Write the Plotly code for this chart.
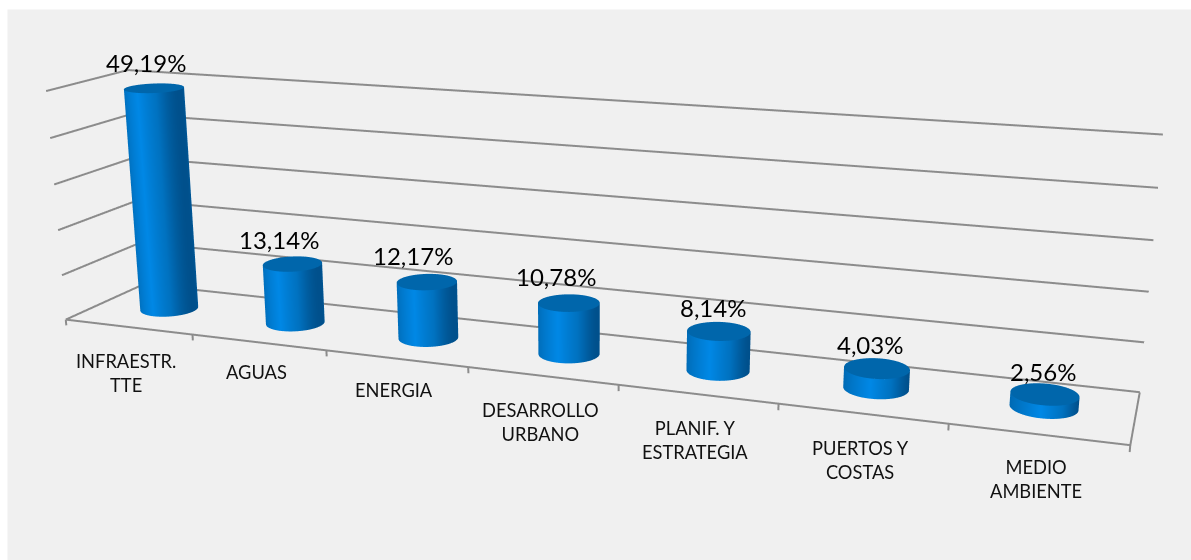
import numpy as np
import plotly.graph_objects as go

categories = ["INFRAESTR.<br>TTE", "AGUAS", "ENERGIA", "DESARROLLO<br>URBANO", "PLANIF. Y<br>ESTRATEGIA", "PUERTOS Y<br>COSTAS", "MEDIO<br>AMBIENTE"]
values = [49.19, 13.14, 12.17, 10.78, 8.14, 4.03, 2.56]
value_labels = ["49,19%", "13,14%", "12,17%", "10,78%", "8,14%", "4,03%", "2,56%"]
grid_values = [0, 10, 20, 30, 40, 50]

# Label nudges in pixels
value_dx = [-6, -12, -13, -13, -6, -9, -5]
value_dy = [4, 2, 4, 4, 2, 2, 1]
cat_dy = [0, 4, 3, 0, 0, 0, 1]

Z0, Z1 = -2.0, 54.0
W, H = 1191, 560
ax, ay, az = 3.0, 0.3998, 0.75698
eye = dict(x=1.6200, y=-4.3006, z=1.1905-0.02703)
center = dict(x=0.0794, y=-0.0032, z=-0.1050-0.02703)
up = dict(x=0.0008, y=0, z=1)
fovy = 2*np.arctan((H/2)/1753.07)

fig = go.Figure()
th = np.linspace(0, 2*np.pi, 97)
rx = 0.197
ry = rx*(ax/7)/ay
scale = [[0, "#0069b2"], [.5, "#0088e6"], [.8, "#0072c0"], [1, "#00508c"]]
lit = dict(ambient=1, diffuse=0, specular=0, fresnel=0, roughness=1)
ln = dict(color="#8c8c8c", width=4)
for t in grid_values:
    fig.add_trace(go.Scatter3d(x=[0, 0, 7], y=[0, 1, 1], z=[t, t, t], mode="lines", line=ln, hoverinfo="skip", showlegend=False))
fig.add_trace(go.Scatter3d(x=[0, 7, 7], y=[0, 0, 1], z=[0, 0, 0], mode="lines", line=ln, hoverinfo="skip", showlegend=False))
for t in range(len(categories)+1):
    fig.add_trace(go.Scatter3d(x=[t, t], y=[0, 0], z=[0, -1.3], mode="lines", line=ln, hoverinfo="skip", showlegend=False))
for i, v in enumerate(values):
    xc = i+.5+0.02-0.006*i
    yc = .5
    X = np.array([xc+rx*np.cos(th)]*2)
    Y = np.array([yc+ry*np.sin(th)]*2)
    Zz = np.array([np.zeros_like(th), np.full_like(th, v)])
    fig.add_trace(go.Surface(x=X, y=Y, z=Zz, surfacecolor=np.cos(th)*np.ones((2, 1)), cmin=-1, cmax=1, colorscale=scale, showscale=False, lighting=lit, hoverinfo="skip"))
    r = np.array([0, 1.0])
    fig.add_trace(go.Surface(x=xc+rx*np.outer(r, np.cos(th)), y=yc+ry*np.outer(r, np.sin(th)), z=np.full((2, len(th)), v), surfacecolor=np.zeros((2, len(th))), cmin=-1, cmax=1, colorscale=[[0, "#0066ab"], [1, "#0066ab"]], showscale=False, lighting=lit, hoverinfo="skip"))
ann = []
for i, (v, l, cat) in enumerate(zip(values, value_labels, categories)):
    ann.append(dict(x=i+.5, y=.5, z=v, text=l, showarrow=False, xshift=value_dx[i], yshift=22+value_dy[i], font=dict(family="Lato", size=24, color="#000")))
    ann.append(dict(x=i+.5, y=0, z=0, text=cat, showarrow=False, yanchor="top", xshift=-2, yshift=-21+cat_dy[i], font=dict(family="Lato", size=18.3, color="#111")))
off = dict(showbackground=False, showticklabels=False, title="", showspikes=False, zeroline=False, showline=False, showgrid=False, ticks="")
fig.update_layout(width=W, height=H, margin=dict(l=0, r=0, t=0, b=0), paper_bgcolor="white",
    shapes=[dict(type="rect", xref="paper", yref="paper", x0=7.5/W, x1=1, y0=0, y1=1-9.5/H, fillcolor="#f0f0f0", line_width=0, layer="below")],
    scene=dict(domain=dict(x=[0, 1], y=[0, 1]), bgcolor="rgba(0,0,0,0)", aspectmode="manual", aspectratio=dict(x=ax, y=ay, z=az),
        camera=dict(eye=eye, center=center, up=up),
        xaxis=dict(off, range=[0, 7]), yaxis=dict(off, range=[0, 1]), zaxis=dict(off, range=[Z0, Z1]),
        annotations=ann))
post = """
document.body.style.margin='0';
var gd=document.getElementById('{plot_id}');
var tick=setInterval(function(){
  var s=gd._fullLayout&&gd._fullLayout.scene&&gd._fullLayout.scene._scene;
  if(s&&s.glplot){ s.glplot.fovy=%f; s.glplot.redraw(); clearInterval(tick); }
},20);
""" % fovy
fig.write_html("out.html", post_script=post, config=dict(displayModeBar=False))
